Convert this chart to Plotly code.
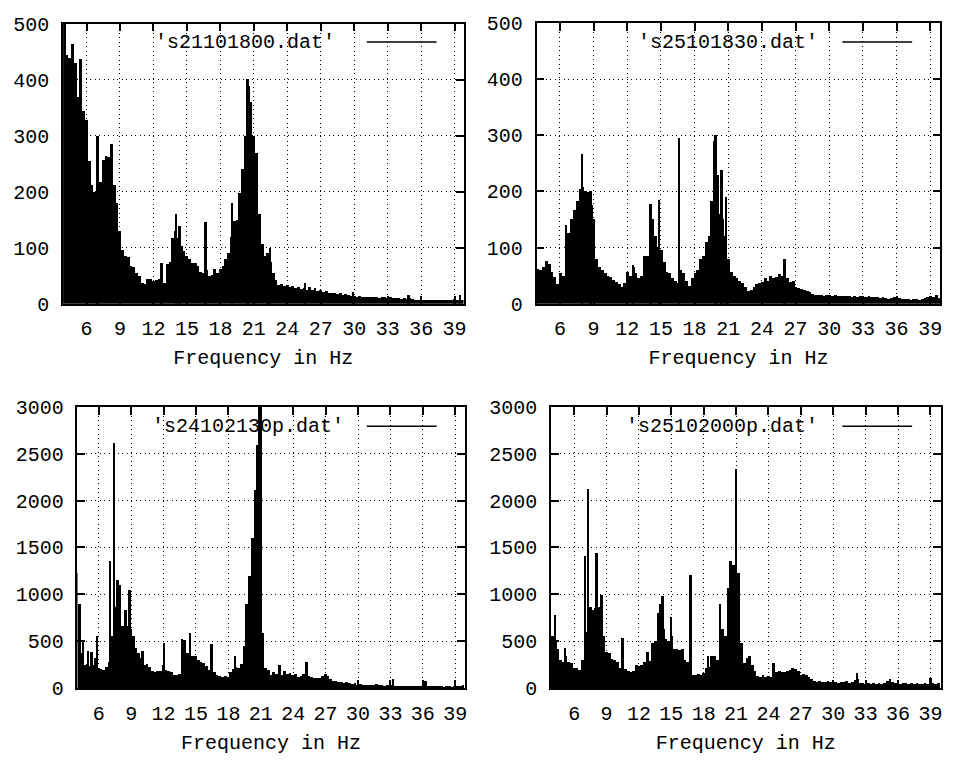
import plotly.graph_objects as go

# ---------------- data ----------------
FREQ_START = 4.0
FREQ_STEP = 0.25

names = ["'s21101800.dat'", "'s25101830.dat'", "'s24102130p.dat'", "'s25102000p.dat'"]

vals_s21101800 = [
    520, 445, 440, 465, 430, 370, 438, 345, 328, 256, 212, 200, 240, 218, 258, 265,
    262, 285, 212, 180, 130, 97, 86, 84, 68, 66, 55, 50, 38, 36, 45, 44,
    42, 43, 44, 60, 38, 72, 76, 118, 130, 118, 103, 95, 86, 80, 74, 74,
    68, 58, 56, 60, 50, 52, 62, 56, 62, 68, 80, 91, 120, 148, 150, 198,
    242, 300, 390, 360, 300, 270, 160, 108, 86, 80, 75, 55, 43, 34, 36, 32,
    34, 30, 33, 28, 30, 27, 29, 26, 30, 25, 28, 24, 26, 22, 24, 20,
    19, 20, 18, 19, 17, 18, 16, 15, 14, 13, 14, 13, 12, 13, 12, 13,
    12, 11, 13, 12, 11, 12, 11, 10, 10, 9, 10, 9, 10, 9, 8, 8,
    9, 8, 7, 8, 8, 7, 8, 7, 8, 7, 8, 7, 9, 8, 7, 8,
]
spike_f_s21101800 = [7.0, 12.75, 14.05, 14.35, 16.7, 19.05, 20.45, 22.25, 22.5, 25.6, 29.9, 34.9, 39.5]
spike_v_s21101800 = [300, 74, 160, 140, 147, 181, 402, 91, 100, 38, 22, 16, 16]

vals_s25101830 = [
    62, 60, 66, 76, 70, 57, 48, 34, 55, 50, 140, 125, 150, 166, 183, 205,
    208, 200, 198, 175, 150, 79, 65, 60, 55, 50, 48, 42, 38, 34, 30, 36,
    57, 50, 65, 55, 45, 50, 85, 85, 165, 150, 120, 100, 96, 74, 57, 55,
    45, 40, 36, 60, 55, 40, 32, 45, 55, 60, 80, 85, 110, 120, 182, 290,
    230, 160, 150, 120, 80, 57, 50, 45, 40, 36, 30, 22, 24, 30, 34, 36,
    38, 45, 40, 50, 45, 48, 52, 50, 60, 45, 38, 40, 30, 28, 26, 25,
    22, 20, 17, 16, 15, 16, 14, 15, 16, 14, 15, 13, 14, 13, 14, 13,
    12, 13, 12, 13, 12, 12, 14, 12, 11, 12, 10, 11, 10, 9, 10, 11,
    9, 10, 9, 8, 8, 7, 8, 8, 7, 8, 10, 12, 14, 12, 16, 10,
]
spike_f_s25101830 = [7.95, 8.7, 12.5, 14.05, 14.8, 16.6, 19.85, 20.4, 20.8, 26.0]
spike_v_s25101830 = [266, 200, 68, 177, 185, 295, 300, 238, 190, 80]

vals_s24102130p = [
    1230, 900, 380, 250, 260, 240, 250, 320, 220, 210, 200, 230, 280, 560, 870, 1150,
    1100, 660, 840, 660, 630, 560, 425, 380, 320, 250, 260, 230, 180, 170, 190, 180,
    250, 200, 185, 170, 145, 140, 150, 530, 520, 380, 400, 350, 340, 300, 280, 270,
    240, 200, 180, 170, 140, 130, 125, 130, 120, 170, 210, 230, 220, 260, 300, 900,
    1200, 1600, 2110, 2600, 3100, 590, 215, 200, 145, 170, 150, 200, 140, 180, 150, 160,
    140, 150, 120, 130, 150, 200, 130, 120, 110, 115, 110, 130, 150, 130, 100, 80,
    75, 70, 65, 60, 70, 55, 50, 60, 40, 45, 40, 35, 40, 38, 35, 50,
    40, 35, 30, 35, 30, 40, 28, 25, 30, 25, 28, 22, 25, 24, 30, 25,
    28, 22, 25, 20, 22, 25, 20, 22, 18, 20, 22, 18, 20, 25, 22, 40,
]
spike_f_s24102130p = [4.6, 5.1, 5.4, 5.9, 7.1, 7.47, 8.9, 10.1, 12.1, 14.5, 16.5, 18.7, 19.5, 20.9, 22.8, 25.3, 33.3, 36.3]
spike_v_s24102130p = [500, 400, 390, 560, 1355, 2620, 1045, 400, 485, 590, 475, 350, 455, 3100, 250, 280, 100, 80]

vals_s25102000p = [
    560, 500, 420, 300, 280, 350, 280, 270, 215, 220, 200, 300, 1415, 600, 870, 840,
    860, 870, 1000, 560, 385, 380, 315, 300, 280, 215, 230, 210, 180, 170, 185, 250,
    240, 250, 280, 270, 290, 485, 500, 800, 900, 630, 530, 500, 560, 420, 420, 410,
    420, 300, 280, 200, 145, 140, 150, 145, 160, 215, 230, 350, 340, 300, 500, 630,
    560, 1075, 1355, 1310, 2340, 900, 485, 275, 320, 350, 250, 180, 130, 125, 140, 120,
    130, 125, 200, 175, 180, 170, 175, 180, 200, 215, 210, 180, 145, 150, 140, 120,
    100, 80, 70, 75, 65, 70, 75, 70, 65, 70, 60, 65, 70, 75, 60, 70,
    90, 100, 60, 55, 50, 55, 50, 55, 50, 55, 50, 60, 75, 100, 70, 60,
    55, 50, 60, 55, 50, 55, 50, 55, 50, 48, 55, 50, 110, 55, 50, 60,
]
spike_f_s25102000p = [4.25, 5.2, 7.3, 8.1, 8.55, 10.5, 12.8, 14.2, 15.0, 16.8, 18.4, 19.5, 21.25, 24.5, 32.2, 39.0]
spike_v_s25102000p = [785, 430, 2130, 1440, 1000, 540, 385, 990, 765, 1210, 350, 900, 1230, 275, 160, 110]

x_ticks = [6, 9, 12, 15, 18, 21, 24, 27, 30, 33, 36, 39]
y_ticks_top = [0, 100, 200, 300, 400, 500]
y_ticks_bottom = [0, 500, 1000, 1500, 2000, 2500, 3000]
x_title = "Frequency in Hz"

# ---------------- layout helpers ----------------
W, H = 961, 770
FONT = "Liberation Mono"
FS = 20


def fx(p):
    return p / W


def fy(p):
    return 1 - p / H


panels = [
    dict(vals=vals_s21101800, sf=spike_f_s21101800, sv=spike_v_s21101800, name=names[0],
         xd=(63.3, 465.0), yd=(14.0, 302.7), xr=(3.9, 39.8), yticks=y_ticks_top,
         leg=(338, 368, 438, 33)),
    dict(vals=vals_s25101830, sf=spike_f_s25101830, sv=spike_v_s25101830, name=names[1],
         xd=(538.3, 943.3), yd=(13.5, 302.7), xr=(3.92, 39.9), yticks=y_ticks_top,
         leg=(823, 845, 915, 33)),
    dict(vals=vals_s24102130p, sf=spike_f_s24102130p, sv=spike_v_s24102130p, name=names[2],
         xd=(77.7, 466.0), yd=(409.0, 699.0), xr=(4.03, 39.86), yticks=y_ticks_bottom,
         leg=(347, 368, 438, 429)),
    dict(vals=vals_s25102000p, sf=spike_f_s25102000p, sv=spike_v_s25102000p, name=names[3],
         xd=(552.7, 943.7), yd=(409.0, 699.0), xr=(3.85, 39.96), yticks=y_ticks_bottom,
         leg=(823, 845, 915, 429)),
]

fig = go.Figure()
annotations = []
shapes = []

for i, p in enumerate(panels, start=1):
    xa = "x" if i == 1 else f"x{i}"
    ya = "y" if i == 1 else f"y{i}"
    freqs = [FREQ_START + FREQ_STEP * k for k in range(len(p["vals"]))]
    fig.add_trace(go.Bar(x=freqs, y=p["vals"], width=FREQ_STEP, xaxis=xa, yaxis=ya,
                         marker=dict(color="black", line=dict(width=0)),
                         showlegend=False, hoverinfo="skip"))
    fig.add_trace(go.Bar(x=p["sf"], y=p["sv"], width=0.17, xaxis=xa, yaxis=ya,
                         marker=dict(color="black", line=dict(width=0)),
                         showlegend=False, hoverinfo="skip"))

    axis_common = dict(showline=True, linecolor="black", linewidth=1.5, mirror="ticks",
                       ticks="inside", ticklen=8, tickwidth=1.5, tickcolor="black",
                       showgrid=True, gridcolor="black", gridwidth=1, griddash="1px,3.5px",
                       zeroline=False, tickfont=dict(family=FONT, size=FS, color="black"))
    xkey = "xaxis" if i == 1 else f"xaxis{i}"
    ykey = "yaxis" if i == 1 else f"yaxis{i}"
    fig.update_layout({
        xkey: dict(axis_common, domain=[fx(p["xd"][0]), fx(p["xd"][1])], range=list(p["xr"]),
                   anchor=ya, tickmode="array", tickvals=x_ticks,
                   ticklabelstandoff=6,
                   title=dict(text=x_title, font=dict(family=FONT, size=FS, color="black"),
                              standoff=10)),
        ykey: dict(axis_common, domain=[fy(p["yd"][1]), fy(p["yd"][0])],
                   range=[p["yticks"][0], p["yticks"][-1]], anchor=xa,
                   tickmode="array", tickvals=p["yticks"], ticklabelstandoff=8),
    })
    tx, lx0, lx1, ly = p["leg"]
    annotations.append(dict(text=p["name"], xref="paper", yref="paper", x=fx(tx), y=fy(ly),
                            xanchor="right", yanchor="middle", showarrow=False,
                            font=dict(family=FONT, size=FS, color="black")))
    shapes.append(dict(type="line", xref="paper", yref="paper", x0=fx(lx0), x1=fx(lx1),
                       y0=fy(ly), y1=fy(ly), line=dict(color="black", width=1.5)))

fig.update_layout(width=W, height=H, margin=dict(l=0, r=0, t=0, b=0),
                  paper_bgcolor="white", plot_bgcolor="white",
                  barmode="overlay", bargap=0, showlegend=False,
                  annotations=annotations, shapes=shapes)

fig.write_html("out.html")
